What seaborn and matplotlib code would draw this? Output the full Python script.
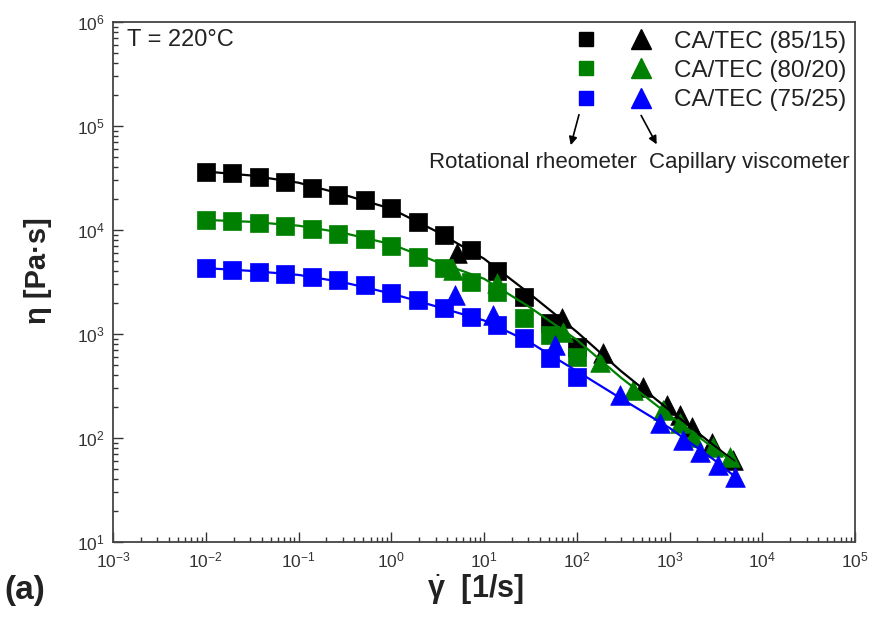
import math
import matplotlib
matplotlib.use("Agg")
import matplotlib.pyplot as plt
from matplotlib.lines import Line2D
from matplotlib.legend_handler import HandlerTuple
from matplotlib.ticker import LogLocator, FuncFormatter, NullFormatter
import seaborn as sns

# ---------------- data ----------------
series_labels = ["CA/TEC (85/15)", "CA/TEC (80/20)", "CA/TEC (75/25)"]
series_colors = ["#000000", "#008000", "#0000ff"]

# rotational rheometer (squares)
rot_x = [0.01, 0.0193, 0.0373, 0.072, 0.139, 0.268, 0.518, 1.0, 1.93, 3.73, 7.2, 13.9, 26.8, 51.8, 100]
rot_85 = [36100, 35300, 32300, 29000, 25400, 21700, 19400, 16300, 11950, 8950, 6420, 4040, 2270, 1280, 750]
rot_80 = [12500, 12200, 11700, 10900, 10200, 9150, 8190, 7020, 5500, 4310, 3160, 2530, 1430, 980, 600]
rot_75 = [4310, 4120, 3940, 3770, 3530, 3300, 2960, 2480, 2120, 1780, 1460, 1220, 916, 588, 387]

# capillary viscometer (triangles)
cap85_x = [5.1, 69, 192, 518, 940, 1300, 1750, 2870, 4840]
cap85 = [6010, 1430, 656, 309, 207, 166, 128, 89.5, 61.4]
cap80_x = [4.63, 13.8, 71, 178, 404, 851, 1300, 1790, 2940, 4490]
cap80 = [4120, 3090, 1045, 538, 290, 186, 139, 102, 82, 65.6]
cap75_x = [4.87, 12.5, 58, 292, 791, 1400, 2130, 3340, 5080]
cap75 = [2370, 1520, 783, 259, 139, 95.7, 73.3, 54.9, 42.2]

# fitted curves
fit_x = [0.01, 0.03, 0.1, 0.3, 1, 3, 10, 30, 100, 300, 1000, 3000, 5000]
fit_85 = [36500, 33500, 28500, 22000, 16000, 9800, 5300, 2500, 1050, 440, 185, 85, 60]
fit_80 = [12500, 12000, 11000, 9400, 7300, 5000, 3400, 1850, 880, 380, 165, 80, 58]
fit_75 = [4300, 4050, 3700, 3150, 2450, 1850, 1350, 850, 440, 240, 125, 62, 43]

rot_y = [rot_85, rot_80, rot_75]
cap_x = [cap85_x, cap80_x, cap75_x]
cap_y = [cap85, cap80, cap75]
fit_y = [fit_85, fit_80, fit_75]

# ---------------- style ----------------
sns.set_theme(style="white")
plt.rcParams["font.family"] = ["Liberation Sans", "DejaVu Sans"]
plt.rcParams["mathtext.fontset"] = "custom"
plt.rcParams["mathtext.rm"] = "Liberation Sans"
plt.rcParams["mathtext.it"] = "Liberation Sans:bold"
plt.rcParams["mathtext.bf"] = "Liberation Sans:bold"
plt.rcParams["axes.unicode_minus"] = False

fig = plt.figure(figsize=(8.75, 6.19), dpi=100)
ax = fig.add_axes([113 / 875, 1 - 542 / 619, 742 / 875, 520 / 619])
ax.set_xscale("log")
ax.set_yscale("log")

for ry, cx, cy, col in zip(rot_y, cap_x, cap_y, series_colors):
    sns.scatterplot(x=rot_x, y=ry, marker="s", s=150, color=col, edgecolor=col,
                    linewidth=0.5, ax=ax, zorder=2, legend=False)
    sns.scatterplot(x=cx, y=cy, marker="^", s=200, color=col, edgecolor=col,
                    linewidth=0.5, ax=ax, zorder=2, legend=False)
for fy, col in zip(fit_y, series_colors):
    sns.lineplot(x=fit_x, y=fy, color=col, lw=1.6, ax=ax, zorder=3,
                 legend=False, sort=False)

ax.set_xlim(1e-3, 1e5)
ax.set_ylim(1e1, 1e6)

fmt = FuncFormatter(lambda v, p: r"$\mathregular{10^{%d}}$" % round(math.log10(v)))
for axis in (ax.xaxis, ax.yaxis):
    axis.set_major_locator(LogLocator(base=10, numticks=20))
    axis.set_minor_locator(LogLocator(base=10, subs=range(2, 10), numticks=100))
    axis.set_major_formatter(fmt)
    axis.set_minor_formatter(NullFormatter())

ax.tick_params(which="both", direction="in", bottom=True, left=True,
               top=False, right=False,
               color="#333333", width=1.0, labelsize=12.5, labelcolor="#333333")
ax.tick_params(which="major", length=7, pad=6)
ax.tick_params(which="minor", length=3.5)
for sp in ax.spines.values():
    sp.set_color("#444444")
    sp.set_linewidth(1.3)

ax.set_xlabel(r"$\dot{\gamma}$  [1/s]", fontsize=22, fontweight="bold",
              color="#222222", va="top")
ax.xaxis.set_label_coords(0.489, -0.058)
ax.set_ylabel("η [Pa·s]", fontsize=21, fontweight="bold", color="#222222")
ax.yaxis.set_label_coords(-0.082, 0.521)
fig.text(4 / 875, 1 - 591 / 619, "(a)", fontsize=24, fontweight="bold",
         color="#222222", va="center", ha="left")

ax.text(0.019, 0.965, "T = 220°C", transform=ax.transAxes, fontsize=17,
        va="center", ha="left", color="#222222")

# legend: square + triangle per row
handles = [(Line2D([], [], marker="s", ls="", color=c, ms=10.5),
            Line2D([], [], marker="^", ls="", color=c, ms=14)) for c in series_colors]
leg = ax.legend(handles, series_labels,
                handler_map={tuple: HandlerTuple(ndivide=None, pad=1.45)},
                loc="upper right", frameon=False, fontsize=17.5,
                handlelength=3.1, handletextpad=0.95, labelspacing=0.3,
                borderaxespad=0.15, borderpad=0.2)
for t in leg.get_texts():
    t.set_color("#222222")

# annotations
ax.annotate("", xy=(0.616, 0.758), xytext=(0.629, 0.827), xycoords="axes fraction",
            arrowprops=dict(arrowstyle="-|>", color="black", lw=1.2, mutation_scale=12))
ax.annotate("", xy=(0.7345, 0.760), xytext=(0.710, 0.825), xycoords="axes fraction",
            arrowprops=dict(arrowstyle="-|>", color="black", lw=1.2, mutation_scale=12))
ax.text(0.566, 0.729, "Rotational rheometer", transform=ax.transAxes, fontsize=16,
        ha="center", va="center", color="#222222")
ax.text(0.858, 0.729, "Capillary viscometer", transform=ax.transAxes, fontsize=16,
        ha="center", va="center", color="#222222")

fig.savefig("out.png", dpi=100)
